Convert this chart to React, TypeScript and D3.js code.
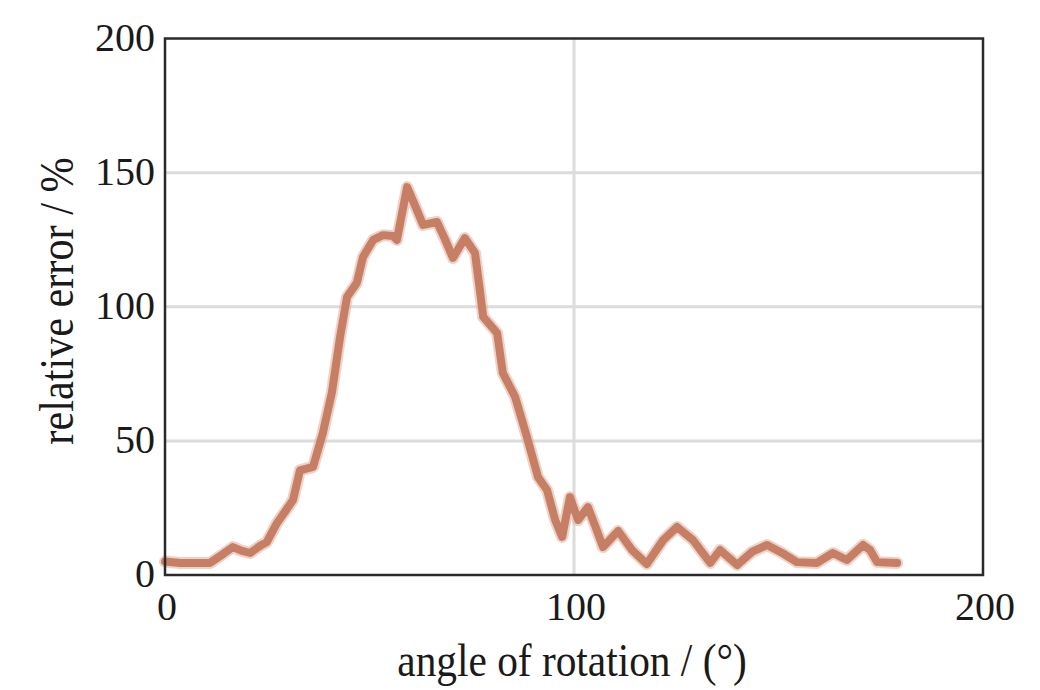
import React from "react";
import * as d3 from "d3";

const angles = [0, 3.7, 7.3, 11, 13.9, 16.6, 18.8, 20.8, 23.2, 24.9, 27.4, 29.6, 31.3, 33, 36.2, 38.6, 40.8, 42.8, 44.5, 46.9, 48.4, 50.9, 53.3, 55.7, 56.7, 59.2, 61.6, 63.1, 66.5, 68.5, 70.4, 73.3, 75.8, 77, 77.8, 81.2, 82.6, 85.6, 88.5, 91.2, 93.4, 95.4, 97.1, 99, 101, 103.4, 105.1, 107.1, 110.8, 114.2, 117.8, 121.8, 125.2, 129.1, 133.3, 135.7, 139.9, 143.5, 147.2, 150.9, 154.5, 159.4, 163.3, 166.7, 170.7, 172.4, 174.1, 179];
const errors = [5, 4.5, 4.5, 4.5, 7.5, 10.4, 9, 8.2, 10.8, 12.3, 19.4, 24.2, 28, 39, 40.3, 53, 68, 88.7, 103.6, 108.9, 118.5, 124.9, 126.7, 126.4, 124.9, 144.6, 136, 130.5, 131.6, 125, 118.2, 125.6, 120, 106, 96.2, 90.2, 75.3, 66.4, 51.4, 36.5, 31.7, 20.5, 14.2, 29, 20.5, 25.3, 18.6, 10.4, 16.4, 9.3, 4.1, 13, 17.9, 13, 4.5, 9.3, 3.7, 8.6, 11.2, 8.2, 4.8, 4.5, 8.2, 5.6, 11.2, 9.3, 4.8, 4.5];

const xTicks = [0, 100, 200];
const yTicks = [0, 50, 100, 150, 200];
const xGrid = [100];
const yGrid = [50, 100, 150];
const xTitle = "angle of rotation / (°)";
const yTitle = "relative error / %";

export default function App() {
  const x = d3.scaleLinear().domain([0, 200]).range([165, 983]);
  const y = d3.scaleLinear().domain([0, 200]).range([575, 38.5]);
  const pts = angles.map((a, i) => [a, errors[i]] as [number, number]);
  const line = d3
    .line<[number, number]>()
    .x((d) => x(d[0]))
    .y((d) => y(d[1]))
    .curve(d3.curveLinear);
  const path = line(pts) || "";
  const font = '"Liberation Serif", "Times New Roman", serif';
  return (
    <svg
      width={1040}
      height={690}
      style={{ position: "absolute", left: 0, top: 0, background: "#fff" }}
    >
      <rect x={0} y={0} width={1040} height={690} fill="#fff" />
      {yGrid.map((v) => (
        <line key={"yg" + v} x1={x(0)} x2={x(200)} y1={y(v)} y2={y(v)} stroke="#dcdcdc" strokeWidth={3} />
      ))}
      {xGrid.map((v) => (
        <line key={"xg" + v} x1={x(v)} x2={x(v)} y1={y(200)} y2={y(0)} stroke="#dcdcdc" strokeWidth={3} />
      ))}
      <path d={path} fill="none" stroke="#e3b4a2" strokeOpacity={0.6} strokeWidth={12} strokeLinejoin="round" strokeLinecap="round" />
      <path d={path} fill="none" stroke="#c67f65" strokeWidth={8} strokeLinejoin="round" strokeLinecap="round" />
      <rect
        x={x(0)}
        y={y(200)}
        width={x(200) - x(0)}
        height={y(0) - y(200)}
        fill="none"
        stroke="#2a2a2a"
        strokeWidth={2.5}
      />
      {yTicks.map((v) => (
        <text key={"yt" + v} x={155} y={y(v) + 12} textAnchor="end" fontFamily={font} fontSize={40} fill="#1a1a1a">
          {v}
        </text>
      ))}
      {xTicks.map((v) => (
        <text key={"xt" + v} x={x(v) + 2} y={620} textAnchor="middle" fontFamily={font} fontSize={40} fill="#1a1a1a">
          {v}
        </text>
      ))}
      <text
        transform="translate(572,676) scale(0.88,1)"
        textAnchor="middle"
        fontFamily={font}
        fontSize={47}
        fill="#1a1a1a"
      >
        {xTitle}
      </text>
      <text
        transform="translate(73,301) rotate(-90) scale(0.88,1)"
        textAnchor="middle"
        fontFamily={font}
        fontSize={48}
        fill="#1a1a1a"
      >
        {yTitle}
      </text>
    </svg>
  );
}
